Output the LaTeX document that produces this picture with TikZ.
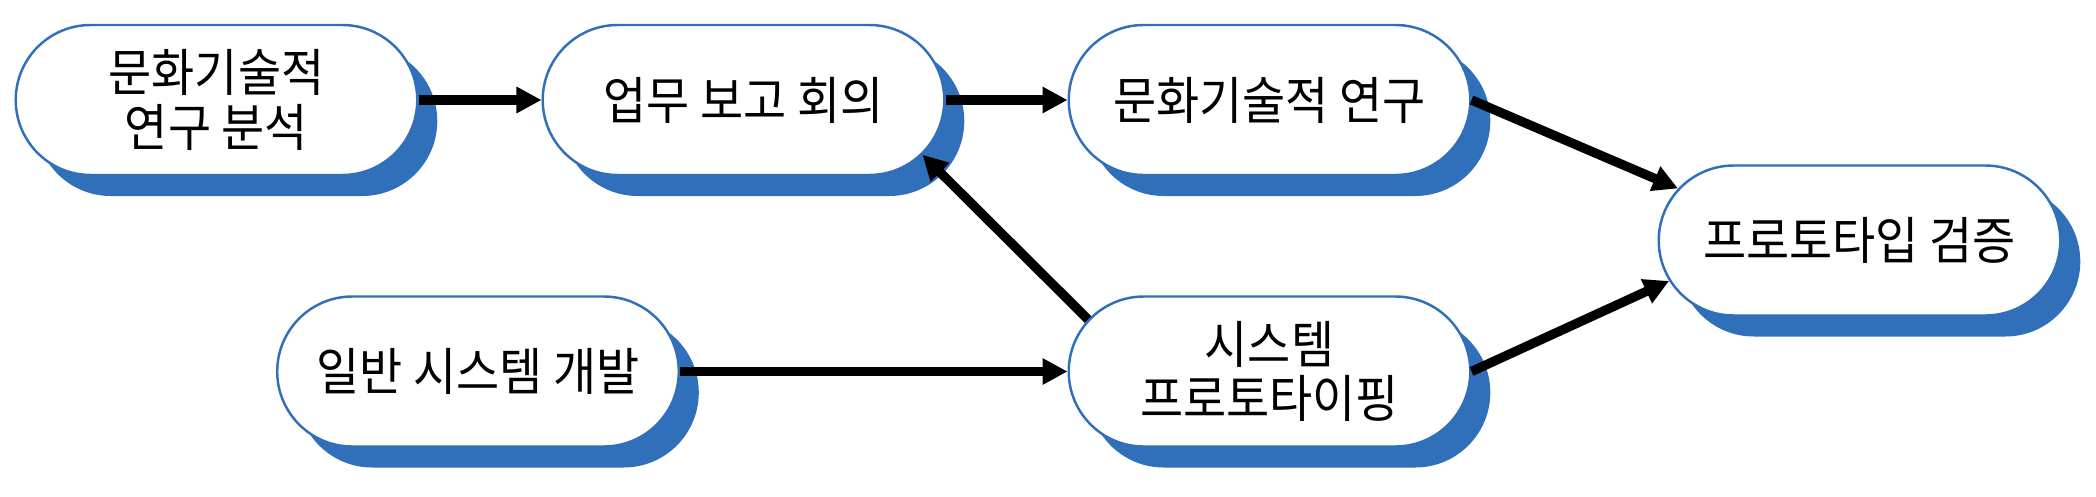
\documentclass[tikz,border=0pt]{standalone}
\usepackage{fontspec}
\newfontfamily\kr[FakeStretch=0.92]{Noto Sans CJK KR}
\usetikzlibrary{shapes.misc,shadows,arrows.meta}
\definecolor{boxblue}{RGB}{48,111,185}

\begin{document}
\begin{tikzpicture}[
	stage/.style={rounded rectangle, draw=boxblue, line width=0.7pt, fill=white,
		minimum width=4.25cm, minimum height=1.5cm, align=center,
		font=\kr\fontsize{14.5}{15.5}\selectfont,
		drop shadow={shadow xshift=0.2cm, shadow yshift=-0.21cm, fill=boxblue, opacity=1}},
	flow/.style={line width=2.65pt, -{Triangle[length=0.25cm,width=0.25cm]}}
]
	\useasboundingbox (0,0) rectangle (20.96,4.96);

	% upper row
	\node[stage] (analysis) at (2.165,3.96) {문화기술적\\연구 분석};
	\node[stage] (meeting) at (7.435,3.96) {업무 보고 회의};
	\node[stage] (research) at (12.695,3.96) {문화기술적 연구};

	% lower row
	\node[stage] (general) at (4.78,1.245) {일반 시스템 개발};
	\node[stage] (proto) at (12.695,1.245) {시스템\\프로토타이핑};

	% result
	\node[stage] (verify) at (18.595,2.555) {프로토타입 검증};

	\draw[flow] (analysis.east) -- (meeting.west);
	\draw[flow] (meeting.east) -- (research.west);
	\draw[flow] (research.east) -- (verify.164);
	\draw[flow] (general.east) -- (proto.west);
	\draw[flow] (proto.164) -- (meeting.-17);
	\draw[flow] (proto.east) -- (verify.192);
\end{tikzpicture}
\end{document}
